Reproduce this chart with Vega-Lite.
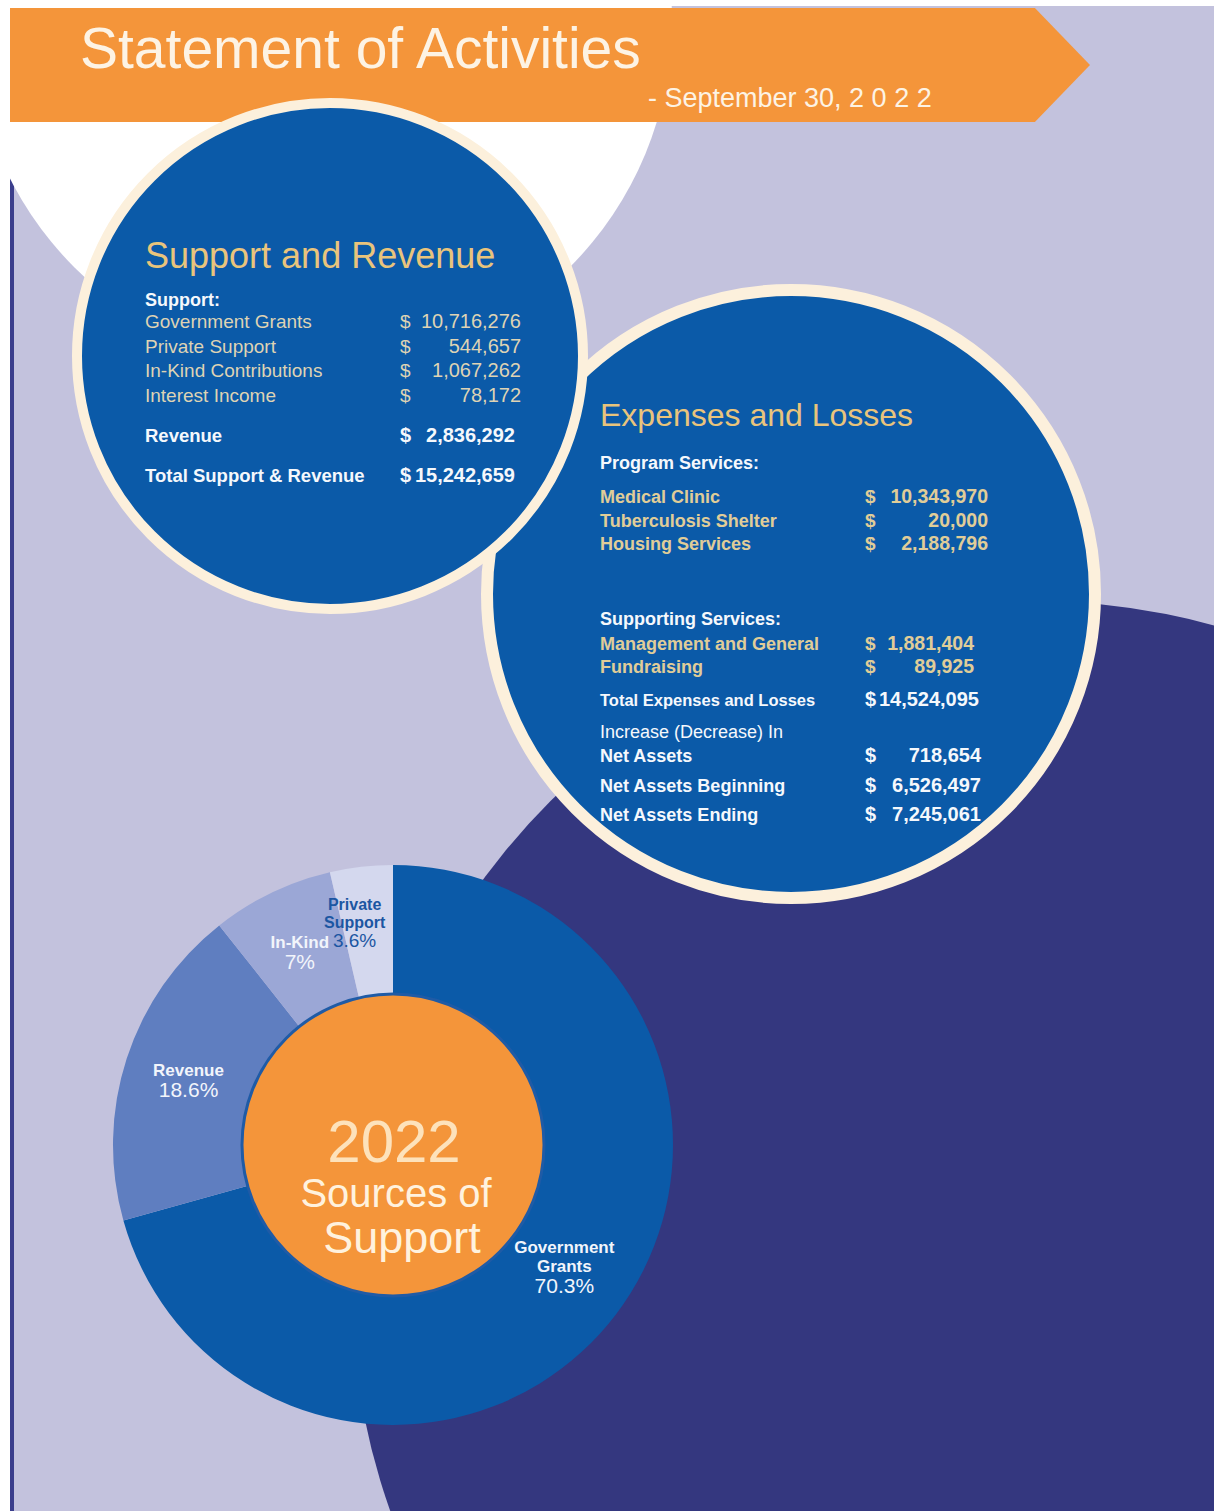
{
  "$schema": "https://vega.github.io/schema/vega-lite/v6.json",
  "description": "Statement of Activities for the year ending September 30, 2022, with the 2022 sources of support as a donut.",
  "width": 1214,
  "height": 1511,
  "padding": 0,
  "autosize": {"type": "none"},
  "background": "#ffffff",
  "config": {"view": {"stroke": null}, "font": "Liberation Sans"},
  "datasets": {
    "support": [
      {"category": "Support", "item": "Government Grants", "amount": 10716276},
      {"category": "Support", "item": "Private Support", "amount": 544657},
      {"category": "Support", "item": "In-Kind Contributions", "amount": 1067262},
      {"category": "Support", "item": "Interest Income", "amount": 78172},
      {"category": "Revenue", "item": "Revenue", "amount": 2836292},
      {"category": "Total", "item": "Total Support & Revenue", "amount": 15242659}
    ],
    "expenses": [
      {"category": "Program Services", "item": "Medical Clinic", "amount": 10343970},
      {"category": "Program Services", "item": "Tuberculosis Shelter", "amount": 20000},
      {"category": "Program Services", "item": "Housing Services", "amount": 2188796},
      {"category": "Supporting Services", "item": "Management and General", "amount": 1881404},
      {"category": "Supporting Services", "item": "Fundraising", "amount": 89925},
      {"category": "Total", "item": "Total  Expenses and Losses", "amount": 14524095},
      {"category": "Increase (Decrease) In", "item": "Net Assets", "amount": 718654},
      {"category": "Net Assets", "item": "Net Assets Beginning", "amount": 6526497},
      {"category": "Net Assets", "item": "Net Assets Ending", "amount": 7245061}
    ],
    "sources": [
      {"source": "Government Grants", "share": 0.703},
      {"source": "Revenue", "share": 0.186},
      {"source": "In-Kind", "share": 0.07},
      {"source": "Private Support", "share": 0.036}
    ]
  },
  "data": {"values": [{}]},
  "resolve": {"scale": {"y": "independent"}},
  "layer": [
    {
      "mark": {"type": "rect", "color": "#c3c2dd"},
      "encoding": {
        "x": {"datum": 14, "type": "quantitative", "scale": {"domain": [0, 1214], "nice": false, "zero": false}, "axis": null},
        "x2": {"datum": 1214},
        "y": {"datum": 6, "type": "quantitative", "scale": {"domain": [0, 1511], "nice": false, "zero": false, "reverse": true}, "axis": null},
        "y2": {"datum": 1511}
      }
    },
    {
      "mark": {"type": "rect", "color": "#3b3e8c"},
      "encoding": {
        "x": {"datum": 10, "type": "quantitative", "scale": {"domain": [0, 1214], "nice": false, "zero": false}, "axis": null},
        "x2": {"datum": 14},
        "y": {"datum": 176, "type": "quantitative", "scale": {"domain": [0, 1511], "nice": false, "zero": false, "reverse": true}, "axis": null},
        "y2": {"datum": 1511}
      }
    },
    {
      "mark": {"type": "point", "shape": "circle", "filled": true, "fill": "#ffffff", "opacity": 1, "size": 490000, "clip": true},
      "encoding": {
        "x": {"datum": 322, "type": "quantitative", "scale": {"domain": [0, 1214], "nice": false, "zero": false}, "axis": null},
        "y": {"datum": 20, "type": "quantitative", "scale": {"domain": [0, 1511], "nice": false, "zero": false, "reverse": true}, "axis": null}
      }
    },
    {
      "mark": {"type": "point", "shape": "circle", "filled": true, "fill": "#34377f", "opacity": 1, "size": 1860496, "clip": true},
      "encoding": {
        "x": {"datum": 1033, "type": "quantitative", "scale": {"domain": [0, 1214], "nice": false, "zero": false}, "axis": null},
        "y": {"datum": 1283, "type": "quantitative", "scale": {"domain": [0, 1511], "nice": false, "zero": false, "reverse": true}, "axis": null}
      }
    },
    {
      "mark": {"type": "point", "shape": "M-1,-0.1056L0.898,-0.1056L1,0L0.898,0.1056L-1,0.1056Z", "filled": true, "fill": "#f4953a", "opacity": 1, "size": 1166400},
      "encoding": {
        "x": {"datum": 550, "type": "quantitative", "scale": {"domain": [0, 1214], "nice": false, "zero": false}, "axis": null},
        "y": {"datum": 65, "type": "quantitative", "scale": {"domain": [0, 1511], "nice": false, "zero": false, "reverse": true}, "axis": null}
      }
    },
    {
      "mark": {"type": "point", "shape": "circle", "filled": true, "fill": "#0b5aa8", "stroke": "#fcf0dc", "strokeWidth": 12, "opacity": 1, "size": 369664},
      "encoding": {
        "x": {"datum": 791, "type": "quantitative", "scale": {"domain": [0, 1214], "nice": false, "zero": false}, "axis": null},
        "y": {"datum": 594, "type": "quantitative", "scale": {"domain": [0, 1511], "nice": false, "zero": false, "reverse": true}, "axis": null}
      }
    },
    {
      "mark": {"type": "point", "shape": "circle", "filled": true, "fill": "#0b5aa8", "stroke": "#fcf0dc", "strokeWidth": 10, "opacity": 1, "size": 256036},
      "encoding": {
        "x": {"datum": 330, "type": "quantitative", "scale": {"domain": [0, 1214], "nice": false, "zero": false}, "axis": null},
        "y": {"datum": 356, "type": "quantitative", "scale": {"domain": [0, 1511], "nice": false, "zero": false, "reverse": true}, "axis": null}
      }
    },
    {
      "data": {"name": "sources"},
      "mark": {"type": "arc", "outerRadius": 280, "innerRadius": 140},
      "encoding": {
        "x": {"datum": 393, "type": "quantitative", "scale": {"domain": [0, 1214], "nice": false, "zero": false}, "axis": null},
        "y": {"datum": 1145, "type": "quantitative", "scale": {"domain": [0, 1511], "nice": false, "zero": false, "reverse": true}, "axis": null},
        "theta": {"field": "share", "type": "quantitative", "stack": true},
        "order": {"field": "share", "type": "quantitative", "sort": "descending"},
        "color": {
          "field": "source",
          "type": "nominal",
          "scale": {"domain": ["Government Grants", "Revenue", "In-Kind", "Private Support"], "range": ["#0b5aa8", "#5f7ec0", "#9ba7d6", "#d4d8ee"]},
          "legend": null
        }
      }
    },
    {
      "mark": {"type": "point", "shape": "circle", "filled": true, "fill": "#f4953a", "stroke": "#1f5ba6", "strokeWidth": 3, "opacity": 1, "size": 91204},
      "encoding": {
        "x": {"datum": 393, "type": "quantitative", "scale": {"domain": [0, 1214], "nice": false, "zero": false}, "axis": null},
        "y": {"datum": 1145, "type": "quantitative", "scale": {"domain": [0, 1511], "nice": false, "zero": false, "reverse": true}, "axis": null}
      }
    },
    {
      "data": {"name": "sources"},
      "transform": [
        {"stack": "share", "groupby": [], "sort": [{"field": "share", "order": "descending"}], "as": ["shareStart", "shareEnd"]},
        {"calculate": "(datum.shareStart + datum.shareEnd) / 2", "as": "shareMid"},
        {"calculate": "reverse(split(datum.source, ' '))", "as": "nameLines"}
      ],
      "encoding": {
        "x": {"datum": 393, "type": "quantitative", "scale": {"domain": [0, 1214], "nice": false, "zero": false}, "axis": null},
        "y": {"datum": 1145, "type": "quantitative", "scale": {"domain": [0, 1511], "nice": false, "zero": false, "reverse": true}, "axis": null},
        "theta": {"field": "shareMid", "type": "quantitative", "stack": null},
        "color": {"condition": {"test": "datum.source === 'Private Support'", "value": "#1c56a2"}, "value": "#f2f5fb"}
      },
      "layer": [
        {
          "transform": [{"filter": "datum.source !== 'Private Support'"}],
          "mark": {"type": "text", "radius": 215, "baseline": "alphabetic", "align": "center", "fontSize": 17, "fontWeight": "bold", "lineHeight": -19, "dy": -3},
          "encoding": {"text": {"field": "nameLines"}}
        },
        {
          "transform": [{"filter": "datum.source !== 'Private Support'"}],
          "mark": {"type": "text", "radius": 215, "baseline": "top", "align": "center", "fontSize": 21, "dy": 1},
          "encoding": {"text": {"field": "share", "type": "quantitative", "format": ".3~%"}}
        },
        {
          "transform": [{"filter": "datum.source === 'Private Support'"}],
          "mark": {"type": "text", "radius": 215, "baseline": "alphabetic", "align": "center", "fontSize": 16, "fontWeight": "bold", "lineHeight": -18, "dy": -3, "dx": -14},
          "encoding": {"text": {"field": "nameLines"}}
        },
        {
          "transform": [{"filter": "datum.source === 'Private Support'"}],
          "mark": {"type": "text", "radius": 215, "baseline": "top", "align": "center", "fontSize": 19, "dy": 1, "dx": -14},
          "encoding": {"text": {"field": "share", "type": "quantitative", "format": ".3~%"}}
        }
      ]
    },
    {
      "mark": {"type": "text", "align": "center", "baseline": "alphabetic", "fontSize": 60, "color": "#fde2bb"},
      "encoding": {
        "x": {"datum": 394, "type": "quantitative", "scale": {"domain": [0, 1214], "nice": false, "zero": false}, "axis": null},
        "y": {"datum": 1162, "type": "quantitative", "scale": {"domain": [0, 1511], "nice": false, "zero": false, "reverse": true}, "axis": null},
        "text": {"value": "2022"}
      }
    },
    {
      "mark": {"type": "text", "align": "center", "baseline": "alphabetic", "fontSize": 40, "color": "#fff2de"},
      "encoding": {
        "x": {"datum": 396, "type": "quantitative", "scale": {"domain": [0, 1214], "nice": false, "zero": false}, "axis": null},
        "y": {"datum": 1207, "type": "quantitative", "scale": {"domain": [0, 1511], "nice": false, "zero": false, "reverse": true}, "axis": null},
        "text": {"value": "Sources of"}
      }
    },
    {
      "mark": {"type": "text", "align": "center", "baseline": "alphabetic", "fontSize": 45, "color": "#fff2de"},
      "encoding": {
        "x": {"datum": 402, "type": "quantitative", "scale": {"domain": [0, 1214], "nice": false, "zero": false}, "axis": null},
        "y": {"datum": 1253, "type": "quantitative", "scale": {"domain": [0, 1511], "nice": false, "zero": false, "reverse": true}, "axis": null},
        "text": {"value": "Support"}
      }
    },
    {
      "mark": {"type": "text", "align": "left", "baseline": "alphabetic", "fontSize": 57, "color": "#fdf3e4"},
      "encoding": {
        "x": {"datum": 80, "type": "quantitative", "scale": {"domain": [0, 1214], "nice": false, "zero": false}, "axis": null},
        "y": {"datum": 68, "type": "quantitative", "scale": {"domain": [0, 1511], "nice": false, "zero": false, "reverse": true}, "axis": null},
        "text": {"value": "Statement of Activities"}
      }
    },
    {
      "mark": {"type": "text", "align": "left", "baseline": "alphabetic", "fontSize": 27, "color": "#fdf3e4"},
      "encoding": {
        "x": {"datum": 648, "type": "quantitative", "scale": {"domain": [0, 1214], "nice": false, "zero": false}, "axis": null},
        "y": {"datum": 107, "type": "quantitative", "scale": {"domain": [0, 1511], "nice": false, "zero": false, "reverse": true}, "axis": null},
        "text": {"value": "- September 30, 2 0 2 2"}
      }
    },
    {
      "mark": {"type": "text", "align": "left", "baseline": "alphabetic", "fontSize": 36, "color": "#e9c47c"},
      "encoding": {
        "x": {"datum": 145, "type": "quantitative", "scale": {"domain": [0, 1214], "nice": false, "zero": false}, "axis": null},
        "y": {"datum": 268, "type": "quantitative", "scale": {"domain": [0, 1511], "nice": false, "zero": false, "reverse": true}, "axis": null},
        "text": {"value": "Support and Revenue"}
      }
    },
    {
      "mark": {"type": "text", "align": "left", "baseline": "alphabetic", "fontSize": 18, "fontWeight": "bold", "color": "#f5f8fc"},
      "encoding": {
        "x": {"datum": 145, "type": "quantitative", "scale": {"domain": [0, 1214], "nice": false, "zero": false}, "axis": null},
        "y": {"datum": 306, "type": "quantitative", "scale": {"domain": [0, 1511], "nice": false, "zero": false, "reverse": true}, "axis": null},
        "text": {"value": "Support:"}
      }
    },
    {
      "mark": {"type": "text", "align": "left", "baseline": "alphabetic", "fontSize": 32, "color": "#e9c47c"},
      "encoding": {
        "x": {"datum": 600, "type": "quantitative", "scale": {"domain": [0, 1214], "nice": false, "zero": false}, "axis": null},
        "y": {"datum": 426, "type": "quantitative", "scale": {"domain": [0, 1511], "nice": false, "zero": false, "reverse": true}, "axis": null},
        "text": {"value": "Expenses and Losses"}
      }
    },
    {
      "mark": {"type": "text", "align": "left", "baseline": "alphabetic", "fontSize": 18, "fontWeight": "bold", "color": "#f5f8fc"},
      "encoding": {
        "x": {"datum": 600, "type": "quantitative", "scale": {"domain": [0, 1214], "nice": false, "zero": false}, "axis": null},
        "y": {"datum": 469, "type": "quantitative", "scale": {"domain": [0, 1511], "nice": false, "zero": false, "reverse": true}, "axis": null},
        "text": {"value": "Program Services:"}
      }
    },
    {
      "mark": {"type": "text", "align": "left", "baseline": "alphabetic", "fontSize": 18, "fontWeight": "bold", "color": "#f5f8fc"},
      "encoding": {
        "x": {"datum": 600, "type": "quantitative", "scale": {"domain": [0, 1214], "nice": false, "zero": false}, "axis": null},
        "y": {"datum": 625, "type": "quantitative", "scale": {"domain": [0, 1511], "nice": false, "zero": false, "reverse": true}, "axis": null},
        "text": {"value": "Supporting Services:"}
      }
    },
    {
      "data": {"name": "support"},
      "transform": [{"filter": "datum.category === 'Support'"}],
      "encoding": {
        "y": {"field": "item", "type": "nominal", "scale": {"type": "point", "domain": ["Government Grants", "Private Support", "In-Kind Contributions", "Interest Income"], "range": [328, 402], "padding": 0}, "axis": null}
      },
      "layer": [
        {
          "mark": {"type": "text", "align": "left", "baseline": "alphabetic", "fontSize": 19, "color": "#ded3b4"},
          "encoding": {
            "x": {"datum": 145, "type": "quantitative", "scale": {"domain": [0, 1214], "nice": false, "zero": false}, "axis": null},
            "text": {"field": "item"}
          }
        },
        {
          "mark": {"type": "text", "align": "left", "baseline": "alphabetic", "fontSize": 19, "color": "#ded3b4"},
          "encoding": {
            "x": {"datum": 400, "type": "quantitative", "scale": {"domain": [0, 1214], "nice": false, "zero": false}, "axis": null},
            "text": {"value": "$"}
          }
        },
        {
          "mark": {"type": "text", "align": "right", "baseline": "alphabetic", "fontSize": 20, "color": "#ded3b4"},
          "encoding": {
            "x": {"datum": 521, "type": "quantitative", "scale": {"domain": [0, 1214], "nice": false, "zero": false}, "axis": null},
            "text": {"field": "amount", "type": "quantitative", "format": ","}
          }
        }
      ]
    },
    {
      "data": {"name": "support"},
      "transform": [{"filter": "datum.category !== 'Support'"}],
      "encoding": {
        "y": {"field": "item", "type": "nominal", "scale": {"type": "point", "domain": ["Revenue", "Total Support & Revenue"], "range": [442, 482], "padding": 0}, "axis": null}
      },
      "layer": [
        {
          "mark": {"type": "text", "align": "left", "baseline": "alphabetic", "fontSize": 18.5, "fontWeight": "bold", "color": "#f5f8fc"},
          "encoding": {
            "x": {"datum": 145, "type": "quantitative", "scale": {"domain": [0, 1214], "nice": false, "zero": false}, "axis": null},
            "text": {"field": "item"}
          }
        },
        {
          "mark": {"type": "text", "align": "left", "baseline": "alphabetic", "fontSize": 20, "fontWeight": "bold", "color": "#f5f8fc"},
          "encoding": {
            "x": {"datum": 400, "type": "quantitative", "scale": {"domain": [0, 1214], "nice": false, "zero": false}, "axis": null},
            "text": {"value": "$"}
          }
        },
        {
          "mark": {"type": "text", "align": "right", "baseline": "alphabetic", "fontSize": 20, "fontWeight": "bold", "color": "#f5f8fc"},
          "encoding": {
            "x": {"datum": 515, "type": "quantitative", "scale": {"domain": [0, 1214], "nice": false, "zero": false}, "axis": null},
            "text": {"field": "amount", "type": "quantitative", "format": ","}
          }
        }
      ]
    },
    {
      "data": {"name": "expenses"},
      "transform": [{"filter": "datum.category === 'Program Services'"}],
      "encoding": {
        "y": {"field": "item", "type": "nominal", "scale": {"type": "point", "domain": ["Medical Clinic", "Tuberculosis Shelter", "Housing Services"], "range": [503, 550], "padding": 0}, "axis": null}
      },
      "layer": [
        {
          "mark": {"type": "text", "align": "left", "baseline": "alphabetic", "fontSize": 18, "fontWeight": "bold", "color": "#e0cd98"},
          "encoding": {
            "x": {"datum": 600, "type": "quantitative", "scale": {"domain": [0, 1214], "nice": false, "zero": false}, "axis": null},
            "text": {"field": "item"}
          }
        },
        {
          "mark": {"type": "text", "align": "left", "baseline": "alphabetic", "fontSize": 19, "fontWeight": "bold", "color": "#e0cd98"},
          "encoding": {
            "x": {"datum": 865, "type": "quantitative", "scale": {"domain": [0, 1214], "nice": false, "zero": false}, "axis": null},
            "text": {"value": "$"}
          }
        },
        {
          "mark": {"type": "text", "align": "right", "baseline": "alphabetic", "fontSize": 19.5, "fontWeight": "bold", "color": "#e0cd98"},
          "encoding": {
            "x": {"datum": 988, "type": "quantitative", "scale": {"domain": [0, 1214], "nice": false, "zero": false}, "axis": null},
            "text": {"field": "amount", "type": "quantitative", "format": ","}
          }
        }
      ]
    },
    {
      "data": {"name": "expenses"},
      "transform": [{"filter": "datum.category === 'Supporting Services'"}],
      "encoding": {
        "y": {"field": "item", "type": "nominal", "scale": {"type": "point", "domain": ["Management and General", "Fundraising"], "range": [650, 673], "padding": 0}, "axis": null}
      },
      "layer": [
        {
          "mark": {"type": "text", "align": "left", "baseline": "alphabetic", "fontSize": 18, "fontWeight": "bold", "color": "#e0cd98"},
          "encoding": {
            "x": {"datum": 600, "type": "quantitative", "scale": {"domain": [0, 1214], "nice": false, "zero": false}, "axis": null},
            "text": {"field": "item"}
          }
        },
        {
          "mark": {"type": "text", "align": "left", "baseline": "alphabetic", "fontSize": 19, "fontWeight": "bold", "color": "#e0cd98"},
          "encoding": {
            "x": {"datum": 865, "type": "quantitative", "scale": {"domain": [0, 1214], "nice": false, "zero": false}, "axis": null},
            "text": {"value": "$"}
          }
        },
        {
          "mark": {"type": "text", "align": "right", "baseline": "alphabetic", "fontSize": 19.5, "fontWeight": "bold", "color": "#e0cd98"},
          "encoding": {
            "x": {"datum": 974, "type": "quantitative", "scale": {"domain": [0, 1214], "nice": false, "zero": false}, "axis": null},
            "text": {"field": "amount", "type": "quantitative", "format": ","}
          }
        }
      ]
    },
    {
      "data": {"name": "expenses"},
      "transform": [{"filter": "datum.category === 'Total'"}],
      "encoding": {
        "y": {"datum": 706, "type": "quantitative", "scale": {"domain": [0, 1511], "nice": false, "zero": false, "reverse": true}, "axis": null}
      },
      "layer": [
        {
          "mark": {"type": "text", "align": "left", "baseline": "alphabetic", "fontSize": 16.5, "fontWeight": "bold", "color": "#f5f8fc"},
          "encoding": {
            "x": {"datum": 600, "type": "quantitative", "scale": {"domain": [0, 1214], "nice": false, "zero": false}, "axis": null},
            "text": {"field": "item"}
          }
        },
        {
          "mark": {"type": "text", "align": "left", "baseline": "alphabetic", "fontSize": 20, "fontWeight": "bold", "color": "#f5f8fc"},
          "encoding": {
            "x": {"datum": 865, "type": "quantitative", "scale": {"domain": [0, 1214], "nice": false, "zero": false}, "axis": null},
            "text": {"value": "$"}
          }
        },
        {
          "mark": {"type": "text", "align": "right", "baseline": "alphabetic", "fontSize": 20, "fontWeight": "bold", "color": "#f5f8fc"},
          "encoding": {
            "x": {"datum": 979, "type": "quantitative", "scale": {"domain": [0, 1214], "nice": false, "zero": false}, "axis": null},
            "text": {"field": "amount", "type": "quantitative", "format": ","}
          }
        }
      ]
    },
    {
      "data": {"name": "expenses"},
      "transform": [{"filter": "datum.item === 'Net Assets'"}],
      "mark": {"type": "text", "align": "left", "baseline": "alphabetic", "fontSize": 18, "color": "#f5f8fc"},
      "encoding": {
        "x": {"datum": 600, "type": "quantitative", "scale": {"domain": [0, 1214], "nice": false, "zero": false}, "axis": null},
        "y": {"datum": 738, "type": "quantitative", "scale": {"domain": [0, 1511], "nice": false, "zero": false, "reverse": true}, "axis": null},
        "text": {"field": "category"}
      }
    },
    {
      "data": {"name": "expenses"},
      "transform": [{"filter": "datum.item === 'Net Assets' || datum.category === 'Net Assets'"}],
      "encoding": {
        "y": {"field": "item", "type": "nominal", "scale": {"type": "point", "domain": ["Net Assets", "Net Assets Beginning", "Net Assets Ending"], "range": [762, 821], "padding": 0}, "axis": null}
      },
      "layer": [
        {
          "mark": {"type": "text", "align": "left", "baseline": "alphabetic", "fontSize": 18, "fontWeight": "bold", "color": "#f5f8fc"},
          "encoding": {
            "x": {"datum": 600, "type": "quantitative", "scale": {"domain": [0, 1214], "nice": false, "zero": false}, "axis": null},
            "text": {"field": "item"}
          }
        },
        {
          "mark": {"type": "text", "align": "left", "baseline": "alphabetic", "fontSize": 20, "fontWeight": "bold", "color": "#f5f8fc"},
          "encoding": {
            "x": {"datum": 865, "type": "quantitative", "scale": {"domain": [0, 1214], "nice": false, "zero": false}, "axis": null},
            "text": {"value": "$"}
          }
        },
        {
          "mark": {"type": "text", "align": "right", "baseline": "alphabetic", "fontSize": 20, "fontWeight": "bold", "color": "#f5f8fc"},
          "encoding": {
            "x": {"datum": 981, "type": "quantitative", "scale": {"domain": [0, 1214], "nice": false, "zero": false}, "axis": null},
            "text": {"field": "amount", "type": "quantitative", "format": ","}
          }
        }
      ]
    }
  ]
}
